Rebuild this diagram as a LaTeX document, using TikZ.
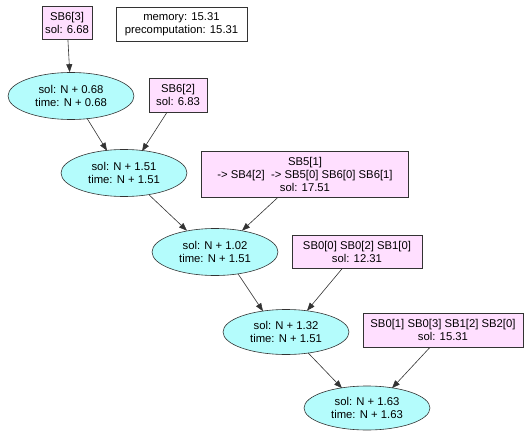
\documentclass[tikz,border=0pt]{standalone}
\usepackage{fontspec}
\setmainfont{Liberation Sans}
\usetikzlibrary{arrows.meta,shapes.geometric}
\definecolor{ecyan}{HTML}{B4FCFC}
\definecolor{bpink}{HTML}{FFDFFF}
\definecolor{edgec}{HTML}{333333}
\begin{document}
\begin{tikzpicture}[x=1pt,y=-1pt,
  every node/.style={font=\fontsize{11.3}{13}\selectfont, align=center, inner sep=0pt},
  estate/.style={ellipse, draw=edgec, fill=ecyan, line width=0.6pt, minimum width=126pt, minimum height=47pt},
  pbox/.style={rectangle, draw=edgec, fill=bpink, line width=0.6pt},
  wbox/.style={rectangle, draw=edgec, fill=white, line width=0.6pt},
  conn/.style={draw=edgec, line width=0.6pt, -{Triangle[length=8pt,width=6pt]}}]
\useasboundingbox (0,0) rectangle (528,431);
\node[pbox, minimum width=50pt, minimum height=33pt] (b1) at (67,23) {SB6[3]\\sol: 6.68};
\node[wbox, minimum width=131pt, minimum height=34pt] (mem) at (181.5,24) {memory: 15.31\\precomputation: 15.31};
\node[estate] (e1) at (71,96) {sol: N + 0.68\\time: N + 0.68};
\node[pbox, minimum width=58pt, minimum height=34pt] (b2) at (178,95) {SB6[2]\\sol: 6.83};
\node[estate] (e2) at (124,173) {sol: N + 1.51\\time: N + 1.51};
\node[pbox, minimum width=207pt, minimum height=46pt] (b3) at (305,174) {SB5[1]\\ -> SB4[2] \ -> SB5[0] SB6[0] SB6[1]\\sol: 17.51};
\node[estate] (e3) at (215,252) {sol: N + 1.02\\time: N + 1.51};
\node[pbox, minimum width=130pt, minimum height=33pt] (b4) at (357,252) {SB0[0] SB0[2] SB1[0]\\sol: 12.31};
\node[estate, minimum height=45pt] (e4) at (286,332) {sol: N + 1.32\\time: N + 1.51};
\node[pbox, minimum width=160pt, minimum height=34pt] (b5) at (443,330) {SB0[1] SB0[3] SB1[2] SB2[0]\\sol: 15.31};
\node[estate, minimum height=44pt] (e5) at (367,408) {sol: N + 1.63\\time: N + 1.63};
\draw[conn] (b1) -- (e1);
\draw[conn] ([xshift=16pt,yshift=1.5pt]e1.south) -- ([xshift=-17pt,yshift=-1.5pt]e2.north);
\draw[conn] ([xshift=-11pt]b2.south) -- ([xshift=18pt,yshift=-2pt]e2.north);
\draw[conn] ([xshift=25pt,yshift=2pt]e2.south) -- ([xshift=-28pt,yshift=-2.5pt]e3.north);
\draw[conn] ([xshift=-27pt]b3.south) -- ([xshift=27pt,yshift=-2.5pt]e3.north);
\draw[conn] ([xshift=23pt,yshift=2pt]e3.south) -- ([xshift=-23pt,yshift=-2pt]e4.north);
\draw[conn] ([xshift=-15pt]b4.south) -- ([xshift=21pt,yshift=-1.5pt]e4.north);
\draw[conn] ([xshift=22pt,yshift=2pt]e4.south) -- ([xshift=-25pt,yshift=-2.5pt]e5.north);
\draw[conn] ([xshift=-13pt]b5.south) -- ([xshift=25pt,yshift=-2.5pt]e5.north);
\end{tikzpicture}
\end{document}
